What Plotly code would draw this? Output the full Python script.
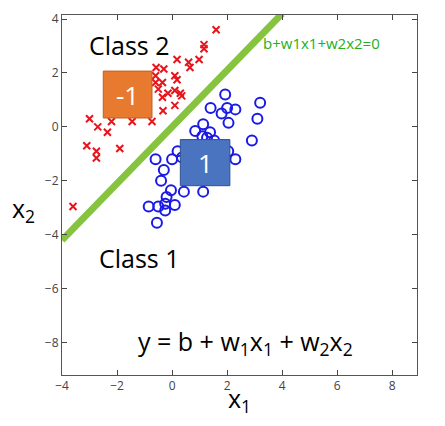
import plotly.graph_objects as go

# class 2 (label -1) red crosses
red_x = [1.6, 1.16, 1.16, 0.98, 0.6, 0.65, 0.18, -0.58, -0.3, -0.6, 0.1, 0.18, -0.6, -0.35,
         -0.5, -0.15, 0.1, 0.3, 0.35, -0.35, 0.1, -0.33, -0.73, -1.45, -2.2, -3.0, -2.7,
         -2.35, -3.1, -2.75, -2.75, -1.9, -3.6]
red_y = [3.6, 3.05, 2.9, 2.5, 2.4, 2.2, 2.5, 2.2, 2.15, 1.9, 1.9, 1.75, 1.65, 1.65,
         1.4, 1.25, 1.35, 1.25, 1.15, 1.1, 0.8, 0.6, 0.2, 0.2, 0.2, 0.3, 0.0,
         -0.2, -0.7, -0.9, -1.15, -0.8, -2.95]

# class 1 (label 1) blue circles
blue_x = [1.93, 3.2, 1.4, 1.8, 2.0, 2.3, 2.05, 3.1, 1.13, 0.84, 1.38, 1.1, 1.27, 1.53,
          2.9, 2.04, 2.3, 0.2, 0.0, -0.6, 0.36, -0.3, -0.4, 0.43, 1.13, -0.04, -0.2,
          -0.25, 0.1, -0.85, -0.5, -0.25, -0.55, 0.8, 1.6]
blue_y = [1.2, 0.9, 0.7, 0.5, 0.7, 0.65, 0.15, 0.3, 0.1, -0.15, -0.2, -0.35, -0.4, -0.5,
          -0.5, -0.9, -1.2, -0.9, -1.2, -1.2, -1.13, -1.6, -2.0, -2.4, -2.4, -2.35, -2.6,
          -2.85, -2.9, -2.95, -2.95, -3.1, -3.55, -0.7, -0.9]

line_x = [-4.0, 4.0]
line_y = [-4.2, 4.2]

fig = go.Figure()
fig.add_trace(go.Scatter(x=red_x, y=red_y, mode="markers",
                         marker=dict(symbol="x-thin", size=7, color="#e8141c",
                                     line=dict(width=2, color="#e8141c"))))
fig.add_trace(go.Scatter(x=blue_x, y=blue_y, mode="markers",
                         marker=dict(symbol="circle-open", size=10, color="#1a1ae6",
                                     line=dict(width=2))))
fig.add_trace(go.Scatter(x=line_x, y=line_y, mode="lines", cliponaxis=False,
                         line=dict(color="#86c440", width=7)))

fig.add_shape(type="rect", x0=-2.5, x1=-0.73, y0=0.33, y1=2.07,
              fillcolor="#e87a30", line=dict(color="#c06020", width=1))
fig.add_shape(type="rect", x0=0.3, x1=2.1, y0=-2.18, y1=-0.47,
              fillcolor="#4a74c0", line=dict(color="#2f528f", width=1))

big = dict(family="Open Sans", size=25, color="black")
fig.add_annotation(x=-1.61, y=1.2, text="-1", showarrow=False,
                   font=dict(family="Open Sans", size=26, color="white"))
fig.add_annotation(x=1.2, y=-1.32, text="1", showarrow=False,
                   font=dict(family="Open Sans", size=26, color="white"))
fig.add_annotation(x=-1.55, y=3.05, text="Class 2", showarrow=False, font=big)
fig.add_annotation(x=-1.2, y=-4.85, text="Class 1", showarrow=False, font=big)
fig.add_annotation(x=2.65, y=-8.0, showarrow=False, font=big,
                   text="y = b + w<sub>1</sub>x<sub>1</sub> + w<sub>2</sub>x<sub>2</sub>")
fig.add_annotation(xref="paper", yref="paper", x=0.9, y=0.955, showarrow=False,
                   text="b+w1x1+w2x2=0",
                   font=dict(family="Open Sans", size=15, color="#22b022"))
fig.add_annotation(xref="paper", yref="paper", x=0.5, y=-0.125,
                   text="x<sub>1</sub>", showarrow=False, font=big)
fig.add_annotation(xref="paper", yref="paper", x=-0.07, y=0.46, xanchor="right",
                   text="x<sub>2</sub>", showarrow=False, font=big)

fig.update_xaxes(range=[-4, 8.9], tickvals=[-4, -2, 0, 2, 4, 6, 8], ticks="inside",
                 mirror="ticks", showline=True, linecolor="#555", showgrid=False,
                 zeroline=False, tickfont=dict(size=12, color="#444"), ticklen=5,
                 automargin=False)
fig.update_yaxes(range=[-9.2, 4.15], tickvals=[-8, -6, -4, -2, 0, 2, 4], ticks="inside",
                 mirror="ticks", showline=True, linecolor="#555", showgrid=False,
                 zeroline=False, tickfont=dict(size=12, color="#444"), ticklen=5,
                 automargin=False)
fig.update_layout(width=437, height=418, showlegend=False,
                  plot_bgcolor="white", paper_bgcolor="white",
                  margin=dict(l=54, r=28, t=7, b=51, autoexpand=False))
fig.write_html("out.html")
